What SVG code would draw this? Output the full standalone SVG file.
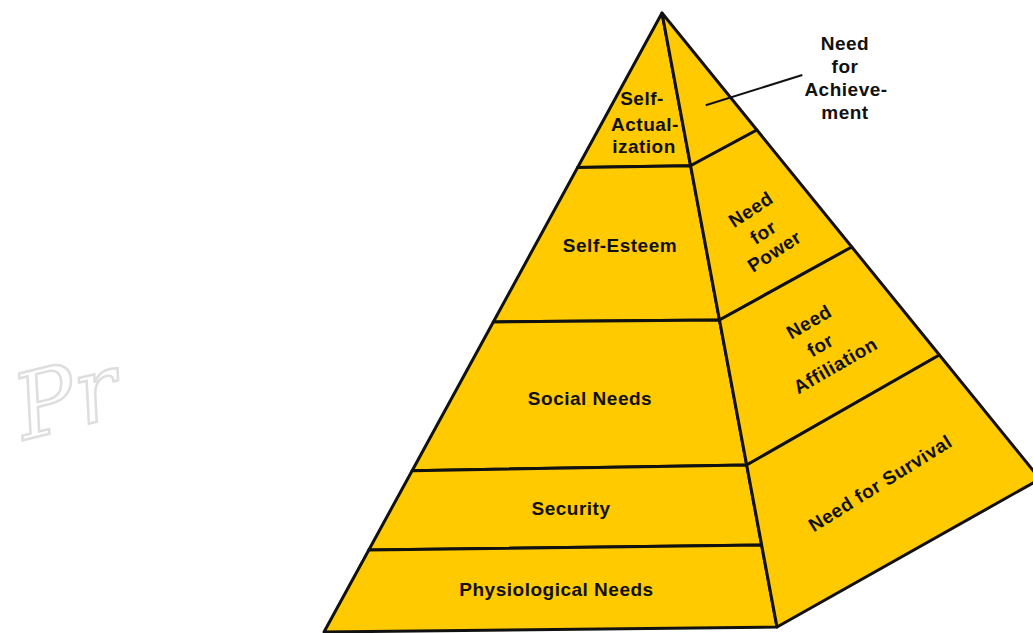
<svg xmlns="http://www.w3.org/2000/svg" width="1033" height="633" viewBox="0 0 1033 633">
  <style>
    .face { fill: #FFCA00; stroke: #111111; stroke-width: 3; stroke-linejoin: round; }
    .lbl { font-family: "Liberation Sans", Arial, sans-serif; font-weight: bold; font-size: 19px; letter-spacing: 0.5px; fill: #111111; text-anchor: middle; }
    .conn { stroke: #111111; stroke-width: 2; fill: none; }
    .wm { font-family: "DejaVu Serif", serif; font-style: italic; font-size: 90px; fill: #ffffff; stroke: #dedede; stroke-width: 2.5; }
  </style>
  <rect x="0" y="0" width="1033" height="633" fill="#ffffff"/>

  <g id="watermark">
    <text class="wm" x="24" y="440" transform="rotate(-14 24 440)">Pr</text>
  </g>

  <!-- Front face (Maslow) -->
  <g id="self-actualization">
    <polygon class="face" points="662,13 690.6,165.7 577.6,167.5"/>
    <text class="lbl" x="642" y="105">Self-</text>
    <text class="lbl" x="645" y="130.5">Actual-</text>
    <text class="lbl" x="644" y="152.5">ization</text>
  </g>
  <g id="self-esteem">
    <polygon class="face" points="577.6,167.5 690.6,165.7 719.5,320 493.3,322"/>
    <text class="lbl" x="620" y="252">Self-Esteem</text>
  </g>
  <g id="social-needs">
    <polygon class="face" points="493.3,322 719.5,320 746.7,465 412.1,470.7"/>
    <text class="lbl" x="590" y="405">Social Needs</text>
  </g>
  <g id="security">
    <polygon class="face" points="412.1,470.7 746.7,465 761.6,545 368.8,550"/>
    <text class="lbl" x="571" y="515">Security</text>
  </g>
  <g id="physiological-needs">
    <polygon class="face" points="368.8,550 761.6,545 777,627 324,632"/>
    <text class="lbl" x="556.5" y="596">Physiological Needs</text>
  </g>

  <!-- Right face (McClelland) -->
  <g id="need-for-achievement">
    <polygon class="face" points="662,13 756.9,130 690.6,165.7"/>
    <text class="lbl" x="845" y="50">Need</text>
    <text class="lbl" x="845" y="73">for</text>
    <text class="lbl" x="846" y="96">Achieve-</text>
    <text class="lbl" x="845" y="119">ment</text>
  </g>
  <g id="need-for-power">
    <polygon class="face" points="690.6,165.7 756.9,130 851.8,247 719.5,320"/>
    <g transform="translate(763,232) rotate(-33)">
      <text class="lbl" x="2" y="-19">Need</text>
      <text class="lbl" x="0" y="7">for</text>
      <text class="lbl" x="-1" y="29">Power</text>
    </g>
  </g>
  <g id="need-for-affiliation">
    <polygon class="face" points="719.5,320 851.8,247 939.4,355 746.7,465"/>
    <g transform="translate(820,345) rotate(-30)">
      <text class="lbl" x="2" y="-19">Need</text>
      <text class="lbl" x="0" y="7">for</text>
      <text class="lbl" x="3" y="32">Affiliation</text>
    </g>
  </g>
  <g id="need-for-survival">
    <polygon class="face" points="746.7,465 939.4,355 1040,479 777,627"/>
    <g transform="translate(880,483) rotate(-32)">
      <text class="lbl" x="0" y="7">Need for Survival</text>
    </g>
  </g>

  <g id="connectors">
    <line class="conn" x1="705.7" y1="105.3" x2="802.3" y2="75"/>
  </g>
</svg>
